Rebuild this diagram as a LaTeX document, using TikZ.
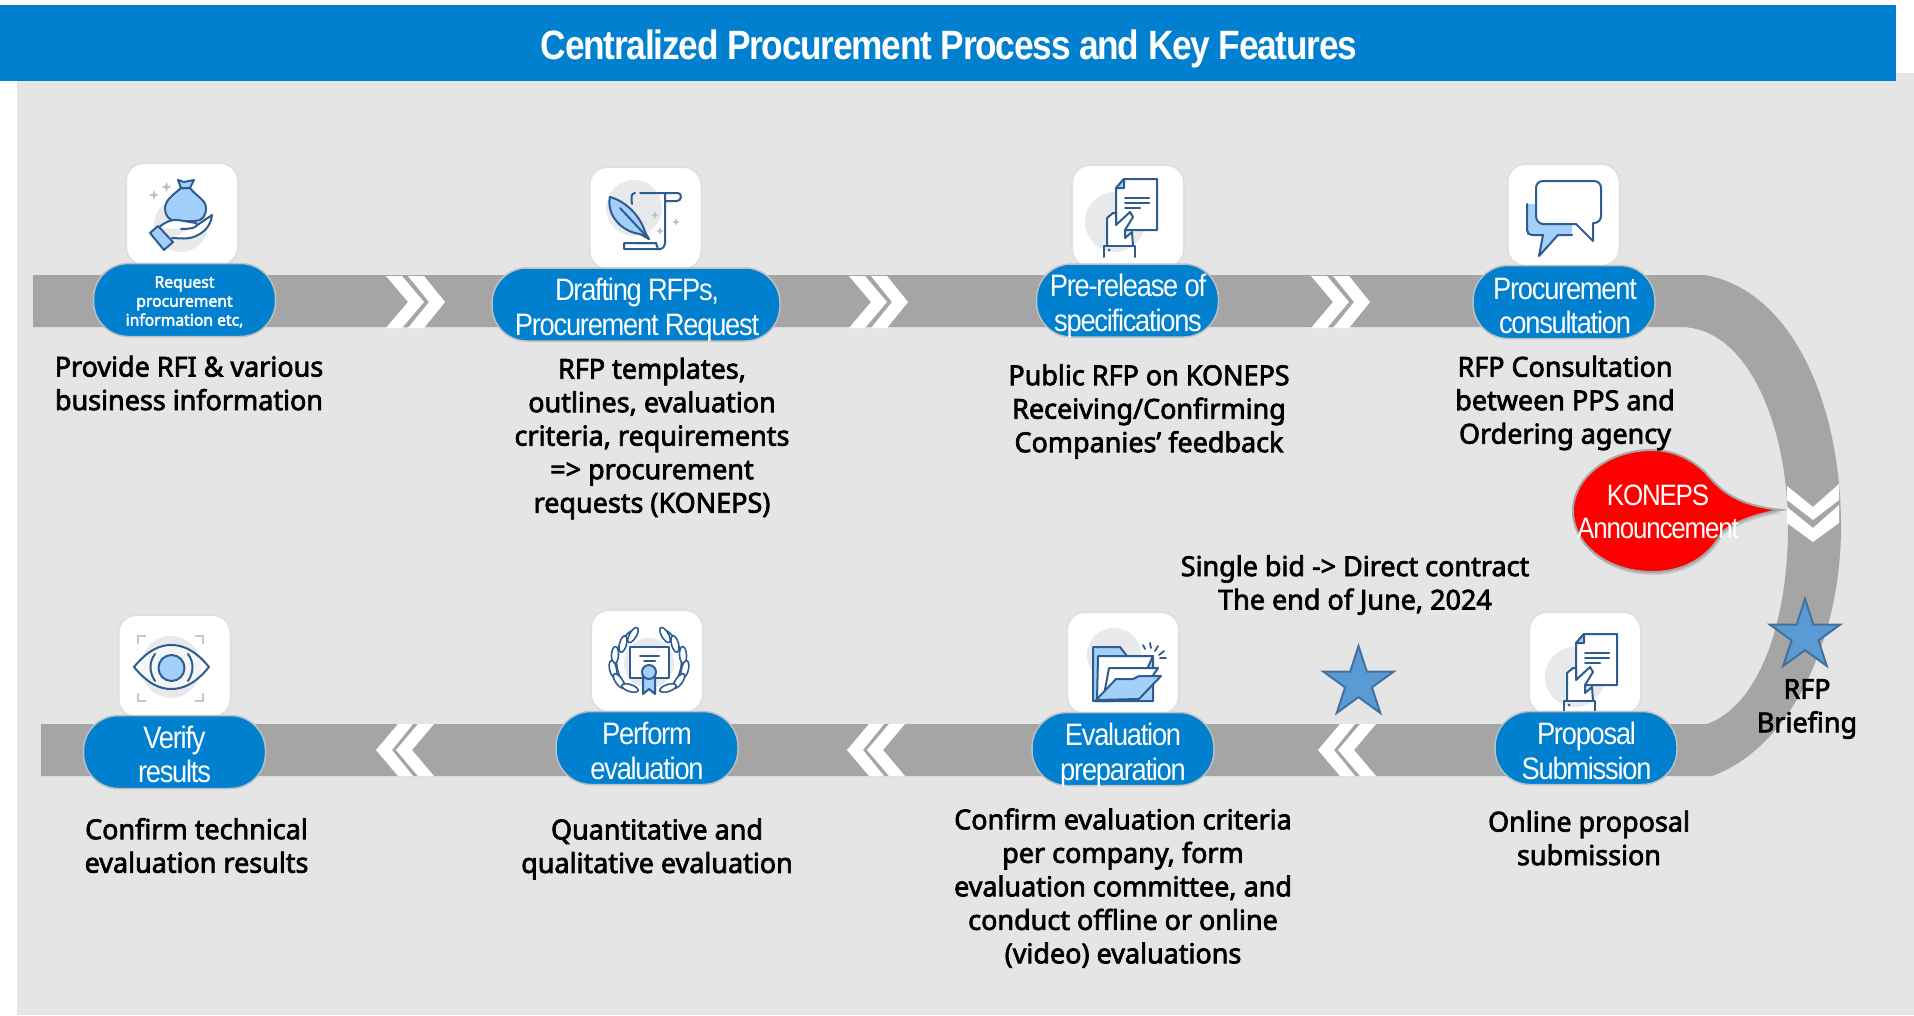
\documentclass[tikz,border=0pt]{standalone}
\usepackage{fontspec}
\usetikzlibrary{shapes.geometric,shadows}
\setmainfont{Liberation Sans}
\newfontfamily\capfont[FakeStretch=0.98,FakeBold=2.6]{Noto Sans}
\newfontfamily\pillfont[FakeStretch=0.88,LetterSpace=-4]{Liberation Sans}
\newfontfamily\titlefont[FakeStretch=0.86,LetterSpace=-3]{Liberation Sans}
\definecolor{panelgray}{HTML}{E5E5E5}
\definecolor{bandgray}{HTML}{A5A5A5}
\definecolor{procblue}{HTML}{0080CE}
\definecolor{icondark}{HTML}{2F5C8F}
\definecolor{iconlight}{HTML}{A3D0FB}
\definecolor{iconcircle}{HTML}{E8E9EB}
\definecolor{starfill}{HTML}{5B9BD5}
\definecolor{starline}{HTML}{41719C}
\tikzset{
  pillbox/.style={draw=black!25,line width=1.5pt,fill=procblue,rounded corners=35pt,minimum width=182pt,minimum height=73pt,inner sep=0pt},
  pilltext/.style={text=white,align=center,inner sep=0pt,font=\pillfont\fontsize{31}{34.5}\selectfont},
  iconbox/.style={draw=black!12,line width=2pt,fill=white,rounded corners=18pt,minimum width=112pt,minimum height=102pt,inner sep=0pt},
  caption/.style={align=center,text=black,inner sep=0pt,font=\capfont\fontsize{27.5}{33.5}\selectfont},
  bluestar/.style={star,star points=5,star point ratio=2.618,minimum size=74pt,inner sep=0pt,fill=starfill,draw=starline,line width=2pt},
  ico/.style={draw=icondark,line width=2pt,line join=round,line cap=round},
  dochand/.pic={
    \fill[iconcircle] (-1,43) circle (30);
    \draw[ico,fill=white] (8,0) -- (41,0) -- (41,51) -- (0,51) -- (0,9) -- cycle;
    \draw[ico,fill=iconlight] (8,0) -- (8,9) -- (0,9) -- cycle;
    \draw[ico] (9,19) -- (33,19) (9,24) -- (33,24) (9,29) -- (24,29);
    \draw[ico,fill=white] (-9,67) -- (-9,39) -- (-3,34) -- (0,34) -- (0,46) -- (14,33) -- (17,38) -- (9,51) -- (9,59) -- (16,53) -- (17,67);
    \draw[ico] (-12,78) -- (-12,67) -- (19,67) -- (19,78);
    \fill[icondark] (-7,71) circle (1.5);
  },
  sparkle/.pic={\fill[black!25] (0,-5) -- (1.3,-1.3) -- (5,0) -- (1.3,1.3) -- (0,5) -- (-1.3,1.3) -- (-5,0) -- (-1.3,-1.3) -- cycle;},
  dblchevright/.pic={
    \fill[white] (0,-26) -- (16,-26) -- (38,0) -- (16,26) -- (0,26) -- (22,0) -- cycle;
    \fill[white] (22,-26) -- (38,-26) -- (59,0) -- (38,26) -- (22,26) -- (43,0) -- cycle;
  },
  dblchevleft/.pic={
    \fill[white] (0,0) -- (22,-26) -- (37,-26) -- (16,0) -- (37,26) -- (22,26) -- cycle;
    \fill[white] (20,0) -- (42,-26) -- (58,-26) -- (36,0) -- (58,26) -- (42,26) -- cycle;
  }
}
\begin{document}
\begin{tikzpicture}[x=1pt,y=-1pt]
\useasboundingbox (0,0) rectangle (1914,1015);
\fill[white] (0,0) rectangle (1914,1015);
\fill[panelgray] (17,73) rectangle (1914,1015);
\fill[procblue] (0,5) rectangle (1896,81);
\node[text=white,inner sep=0pt,font=\titlefont\bfseries\fontsize{41}{44}\selectfont] (title) at (949,49) {Centralized Procurement Process and Key Features};

% bands
\fill[bandgray] (33,275) -- (1705,275) .. controls (1790,290) and (1841,400) .. (1841,527) .. controls (1841,640) and (1790,748) .. (1712,776) -- (41,776) -- (41,724) -- (1707,724) .. controls (1760,705) and (1788,620) .. (1788,527) .. controls (1788,430) and (1750,327) .. (1680,327) -- (33,327) -- cycle;

% chevrons
\path (386,302) pic {dblchevright} (849,302) pic {dblchevright} (1311,302) pic {dblchevright};
\path (376,750) pic {dblchevleft} (847,750) pic {dblchevleft} (1318,750) pic {dblchevleft};
\fill[white] (1787,486) -- (1813,507) -- (1839,484) -- (1839,500) -- (1813,520) -- (1787,500) -- cycle;
\fill[white] (1787,507) -- (1813,528) -- (1839,505) -- (1839,523) -- (1813,542) -- (1787,523) -- cycle;

% icon boxes
\node[iconbox] (box1) at (182,214) {};
\node[iconbox] (box2) at (645.5,218) {};
\node[iconbox] (box3) at (1128,216) {};
\node[iconbox] (box4) at (1563.5,215) {};
\node[iconbox] (box5) at (1585,663) {};
\node[iconbox] (box6) at (1123,663) {};
\node[iconbox] (box7) at (647,661) {};
\node[iconbox] (box8) at (174.5,666) {};

% icon: bag in hand
\fill[iconcircle] (181,225) circle (27);
\path (154,195) pic {sparkle} (166.5,187) pic {sparkle};
\draw[ico,fill=iconlight] (181,188) .. controls (172,196) and (165,200) .. (165,209) .. controls (165,216) and (170,221) .. (176,221) -- (195,221) .. controls (202,221) and (206,216) .. (206,208) .. controls (206,200) and (196,196) .. (190,188) -- cycle;
\draw[ico,fill=iconlight] (178,180) -- (184,182) -- (194,180) -- (190,188) -- (181,188) -- cycle;
\draw[ico,fill=white] (158,228) .. controls (165,222) and (172,219) .. (178,220) -- (196,223) .. controls (199,226) and (195,229) .. (181,229) (196,226) -- (212,215) .. controls (211,225) and (205,232) .. (196,236) .. controls (188,240) and (178,238) .. (172,238);
\draw[ico,fill=iconlight] (150,233) -- (158,226) -- (173,242) -- (164,250) -- cycle;

% icon: feather and scroll
\fill[iconcircle] (634,208) ellipse (28 and 28);
\path (655,215) pic[scale=.8] {sparkle} (676,222) pic[scale=.8] {sparkle} (660,231) pic[scale=.8] {sparkle};
\draw[ico] (640,193) -- (678,193) .. controls (682,193) and (682,201) .. (677,201) -- (665,201) -- (665,193) (635,193) .. controls (631,193) and (631,198) .. (632,204) (665,201) -- (665,243) .. controls (665,248) and (660,250) .. (658,249) (637,243) -- (656,243);
\draw[ico] (624,243) -- (656,243) -- (658,249) -- (624,249) -- cycle;
\draw[ico,fill=iconlight] (610,197) .. controls (625,201) and (640,215) .. (645,232) -- (649,239) -- (640,234) .. controls (622,232) and (606,215) .. (610,197) -- cycle;
\draw[ico] (620,208) -- (649,239);

% icon: chat
\fill[iconlight] (1527,204) -- (1540,204) -- (1572,225) -- (1572,235) -- (1558,235) -- (1539,256) -- (1543,235) -- (1527,235) -- cycle;
\draw[ico] (1527,204) -- (1527,230) .. controls (1527,233) and (1529,235) .. (1532,235) -- (1543,235) -- (1539,256) -- (1558,235) -- (1572,235);
\draw[ico,fill=white] (1543,181) -- (1594,181) .. controls (1598,181) and (1601,184) .. (1601,188) -- (1601,216) .. controls (1601,220) and (1598,223) .. (1594,223) -- (1593,223) -- (1593,241) -- (1576,224) -- (1543,224) .. controls (1539,224) and (1536,220) .. (1536,216) -- (1536,188) .. controls (1536,184) and (1539,181) .. (1543,181) -- cycle;

% icon: document in hand
\path (1116,179) pic {dochand} (1576,634) pic {dochand};

% icon: folder
\fill[iconcircle] (1114,655) circle (27);
\draw[ico,fill=iconlight] (1093,701) -- (1093,647) -- (1120,647) -- (1127,656) -- (1153,656) -- (1153,701) -- cycle;
\draw[ico,fill=white] (1097,701) -- (1098,656) -- (1153,656) -- (1143,678) -- (1112,701) -- cycle;
\draw[ico,fill=white] (1104,695) -- (1109,668) -- (1158,668) -- (1150,680) -- (1125,690) -- cycle;
\draw[ico,fill=iconlight] (1096,700) -- (1116,679) -- (1133,679) -- (1139,676) -- (1161,676) -- (1139,699) -- cycle;
\draw[ico,line width=1.8pt] (1143,645) -- (1145,649) (1150,643) -- (1151,648) (1158,646) -- (1155,651) (1164,651) -- (1159,655) (1166,658) -- (1160,658);

% icon: laurel and certificate
\fill[iconcircle] (649,663) circle (25);
\foreach \s in {1,-1}{
  \begin{scope}[shift={(649,0)},xscale=\s]
    \draw[ico,line width=1.6pt] (-11,691) .. controls (-28,688) and (-36,668) .. (-31,650) .. controls (-29,642) and (-23,634) .. (-18,631);
    \foreach \px/\py/\ang in {-16/635/-30,-26/644/-15,-34/655/-3,-36/669/12,-30/681/35,-19/688/72}{
      \draw[ico,fill=white,line width=1.6pt,rotate around={\ang:(\px,\py)}] (\px,\py) ellipse (3.5 and 8.5);
    }
  \end{scope}
}
\draw[ico,fill=white] (630,647) rectangle (669,678);
\draw[ico] (640,656) -- (659,656) (644,661) -- (655,661);
\draw[ico,fill=iconlight] (643,676) -- (643,694) -- (649,689) -- (655,694) -- (655,676) -- cycle;
\draw[ico,fill=iconlight] (649,672) circle (7);

% icon: eye
\fill[iconcircle] (171,667) ellipse (30 and 31);
\draw[black!22,line width=2.5pt] (138,644) -- (138,636) -- (146,636) (195,636) -- (203,636) -- (203,644) (138,693) -- (138,701) -- (146,701) (195,701) -- (203,701) -- (203,693);
\draw[ico,fill=white,fill opacity=.55] (134,667) .. controls (148,650) and (160,645) .. (171,645) .. controls (183,645) and (195,650) .. (209,667) .. controls (195,684) and (183,689) .. (171,689) .. controls (160,689) and (148,684) .. (134,667) -- cycle;
\draw[ico] (155,654) .. controls (149,662) and (149,672) .. (155,681) (188,654) .. controls (194,662) and (194,672) .. (188,681);
\draw[ico,fill=iconlight] (171.5,668) ellipse (13 and 13);

% pills
\node[pillbox] (p1) at (184.5,300) {};
\node[pillbox,minimum width=288pt] (p2) at (636,304.5) {};
\node[pillbox] (p3) at (1127.5,300.5) {};
\node[pillbox] (p4) at (1564,302) {};
\node[pillbox] (p5) at (1586,748) {};
\node[pillbox] (p6) at (1123,749) {};
\node[pillbox] (p7) at (647,748) {};
\node[pillbox] (p8) at (174.5,752) {};
\node[text=white,align=center,inner sep=0pt,font=\capfont\fontsize{16}{19}\selectfont] (p1text) at (184.5,302) {Request\\procurement\\information etc,};
\node[pilltext] (p2text) at (637,310) {Drafting RFPs,\\Procurement Request};
\node[pilltext] (p3text) at (1128,306) {Pre-release of\\specifications};
\node[pilltext] (p4text) at (1565,306) {Procurement\\consultation};
\node[pilltext] (p5text) at (1586.5,751) {Proposal\\Submission};
\node[pilltext] (p6text) at (1123,755) {Evaluation\\preparation};
\node[pilltext] (p7text) at (647,751) {Perform\\evaluation};
\node[pilltext] (p8text) at (174.5,754.5) {Verify\\results};

% speech bubble
\draw[draw=black!35,line width=2pt,fill=red,drop shadow={shadow xshift=1pt,shadow yshift=-3pt,opacity=.3}] (1781,510) .. controls (1735,505) and (1720,490) .. (1705,472) .. controls (1690,458) and (1672,450) .. (1652,450) .. controls (1608,450) and (1573,478) .. (1573,511) .. controls (1573,545) and (1608,572) .. (1652,572) .. controls (1690,572) and (1712,552) .. (1722,532) .. controls (1735,522) and (1755,514) .. (1781,510) -- cycle;
\node[text=white,align=center,inner sep=0pt,font=\pillfont\fontsize{29.5}{33}\selectfont] (bubbletext) at (1658,512) {KONEPS\\Announcement};

% stars
\node[bluestar] (star1) at (1805,636) {};
\node[bluestar] (star2) at (1358.5,683) {};

% captions
\node[caption] (c1) at (189,383) {Provide RFI \& various\\business information};
\node[caption] (c2) at (652,438.5) {RFP templates,\\outlines, evaluation\\criteria, requirements\\=> procurement\\requests (KONEPS)};
\node[caption] (c3) at (1149,411.5) {Public RFP on KONEPS\\Receiving/Confirming\\Companies’ feedback};
\node[caption] (c4) at (1565,403) {RFP Consultation\\between PPS and\\Ordering agency};
\node[caption] (c5) at (1355,585) {Single bid -> Direct contract\\The end of June, 2024};
\node[caption] (c6) at (1807,709) {RFP\\Briefing};
\node[caption] (c7) at (1589,838) {Online proposal\\submission};
\node[caption] (c8) at (1123,888) {Confirm evaluation criteria\\per company, form\\evaluation committee, and\\conduct offline or online\\(video) evaluations};
\node[caption] (c9) at (657,849) {Quantitative and\\qualitative evaluation};
\node[caption] (c10) at (196.5,845.5) {Confirm technical\\evaluation results};
\end{tikzpicture}
\end{document}
